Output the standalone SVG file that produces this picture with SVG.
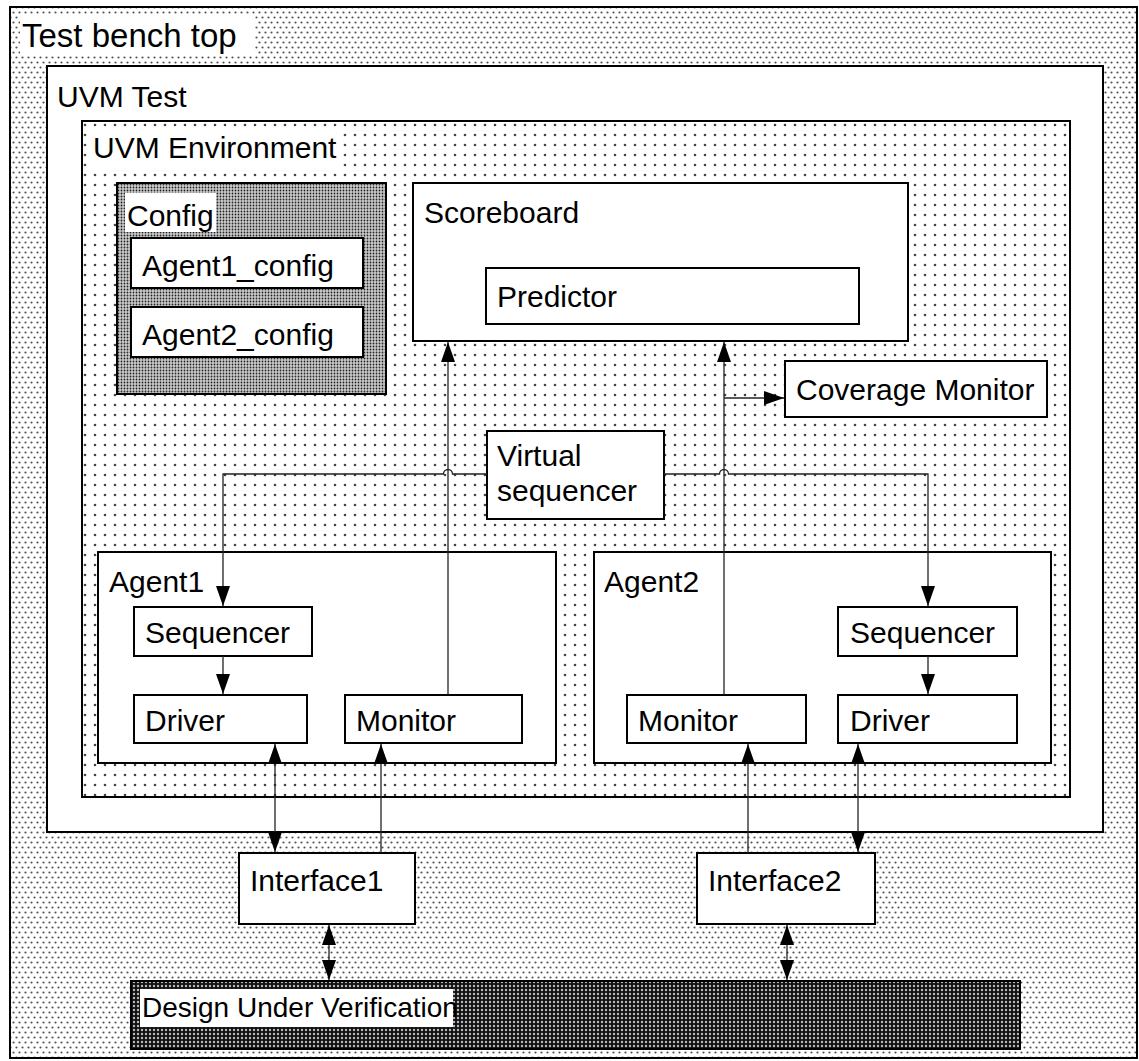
<svg xmlns="http://www.w3.org/2000/svg" width="1139" height="1061" viewBox="0 0 1139 1061">
<defs>
<pattern id="pTb" width="6" height="10" patternUnits="userSpaceOnUse">
<rect width="6" height="10" fill="#fff"/>
<circle cx="1.5" cy="2.5" r="1.1" fill="#555"/>
<circle cx="4.5" cy="7.5" r="1.1" fill="#555"/>
</pattern>
<pattern id="pEnv" width="10" height="10" patternUnits="userSpaceOnUse">
<rect width="10" height="10" fill="#fff"/>
<circle cx="5" cy="5" r="1.3" fill="#444"/>
</pattern>
<pattern id="pCfg" width="3" height="3" patternUnits="userSpaceOnUse">
<rect width="3" height="3" fill="#ccc"/>
<circle cx="1.5" cy="1.5" r="0.9" fill="#222"/>
</pattern>
<pattern id="pDuv" width="4" height="4" patternUnits="userSpaceOnUse">
<rect width="4" height="4" fill="#111"/>
<circle cx="2" cy="2" r="1.2" fill="#bbb"/>
</pattern>
<marker id="arr" viewBox="0 0 20 14" refX="20" refY="7" markerWidth="20" markerHeight="14" markerUnits="userSpaceOnUse" orient="auto-start-reverse">
<path d="M0,0 L20,7 L0,14 z" fill="#000"/>
</marker>
</defs>
<style>
.box{fill:#fff;stroke:#000;stroke-width:2}
.lbl{fill:#fff;stroke:none}
text{font-family:"Liberation Sans",Arial,sans-serif;font-size:30px;fill:#000}
.duvt{font-size:28px}
.big{font-size:33px}
.ln{fill:none;stroke:#222;stroke-width:1.3}
</style>
<g id="testbench">
<rect x="10" y="7" width="1127" height="1051" fill="url(#pTb)" stroke="#000" stroke-width="2"/>
<rect class="lbl" x="20" y="16" width="235" height="40"/>
<text class="big" x="22" y="47">Test bench top</text>
</g>
<g id="uvm-test">
<rect class="box" x="47" y="66" width="1056" height="766"/>
<text x="57" y="107">UVM Test</text>
</g>
<g id="uvm-env">
<rect x="82" y="121" width="988" height="676" fill="url(#pEnv)" stroke="#000" stroke-width="2"/>
<rect class="lbl" x="90" y="131" width="250" height="37"/>
<text x="93" y="158">UVM Environment</text>
</g>
<g id="config">
<rect x="117" y="183" width="269" height="211" fill="url(#pCfg)" stroke="#000" stroke-width="2"/>
<rect class="lbl" x="125" y="193" width="91" height="39"/>
<text x="127" y="226">Config</text>
</g>
<g id="agent1-config">
<rect class="box" x="131" y="238" width="232" height="50"/>
<text x="142" y="276">Agent1_config</text>
</g>
<g id="agent2-config">
<rect class="box" x="131" y="307" width="232" height="50"/>
<text x="142" y="345">Agent2_config</text>
</g>
<g id="scoreboard">
<rect class="box" x="413" y="183" width="495" height="158"/>
<text x="424" y="223">Scoreboard</text>
</g>
<g id="predictor">
<rect class="box" x="486" y="268" width="373" height="56"/>
<text x="497" y="307">Predictor</text>
</g>
<g id="coverage-monitor">
<rect class="box" x="785" y="361" width="262" height="56"/>
<text x="796" y="400">Coverage Monitor</text>
</g>
<g id="virtual-sequencer">
<rect class="box" x="487" y="431" width="177" height="88"/>
<text x="497" y="466">Virtual</text>
<text x="497" y="501">sequencer</text>
</g>
<g id="agent1">
<rect class="box" x="98" y="552" width="458" height="211"/>
<text x="109" y="592">Agent1</text>
</g>
<g id="agent1-sequencer">
<rect class="box" x="134" y="607" width="178" height="49"/>
<text x="145" y="643">Sequencer</text>
</g>
<g id="agent1-driver">
<rect class="box" x="134" y="695" width="173" height="48"/>
<text x="145" y="731">Driver</text>
</g>
<g id="agent1-monitor">
<rect class="box" x="345" y="695" width="177" height="48"/>
<text x="356" y="731">Monitor</text>
</g>
<g id="agent2">
<rect class="box" x="594" y="552" width="457" height="211"/>
<text x="604" y="592">Agent2</text>
</g>
<g id="agent2-sequencer">
<rect class="box" x="838" y="607" width="179" height="49"/>
<text x="850" y="643">Sequencer</text>
</g>
<g id="agent2-monitor">
<rect class="box" x="627" y="695" width="179" height="48"/>
<text x="638" y="731">Monitor</text>
</g>
<g id="agent2-driver">
<rect class="box" x="838" y="695" width="179" height="48"/>
<text x="850" y="731">Driver</text>
</g>
<g id="interface1">
<rect class="box" x="239" y="853" width="176" height="71"/>
<text x="250" y="891">Interface1</text>
</g>
<g id="interface2">
<rect class="box" x="697" y="853" width="178" height="71"/>
<text x="708" y="891">Interface2</text>
</g>
<g id="duv">
<rect x="131" y="981" width="889" height="68" fill="url(#pDuv)" stroke="#000" stroke-width="2"/>
<rect class="lbl" x="140" y="989" width="313" height="38"/>
<text class="duvt" x="142" y="1017">Design Under Verification</text>
</g>
<g id="connectors">
<path class="ln" d="M448 695 V342" marker-end="url(#arr)"/>
<path class="ln" d="M724 695 V342" marker-end="url(#arr)"/>
<path class="ln" d="M724 398 H784" marker-end="url(#arr)"/>
<path class="ln" d="M487 474 H452.5 A4.5 4.5 0 0 0 443.5 474 H223 V606" marker-end="url(#arr)"/>
<path class="ln" d="M664 474 H719.5 A4.5 4.5 0 0 1 728.5 474 H928 V606" marker-end="url(#arr)"/>
<path class="ln" d="M223 656 V694" marker-end="url(#arr)"/>
<path class="ln" d="M928 656 V694" marker-end="url(#arr)"/>
<path class="ln" d="M275 744 V852" marker-start="url(#arr)" marker-end="url(#arr)"/>
<path class="ln" d="M381 853 V744" marker-end="url(#arr)"/>
<path class="ln" d="M748 853 V744" marker-end="url(#arr)"/>
<path class="ln" d="M858 744 V852" marker-start="url(#arr)" marker-end="url(#arr)"/>
<path class="ln" d="M329 925 V980" marker-start="url(#arr)" marker-end="url(#arr)"/>
<path class="ln" d="M787 925 V980" marker-start="url(#arr)" marker-end="url(#arr)"/>
</g>
</svg>
